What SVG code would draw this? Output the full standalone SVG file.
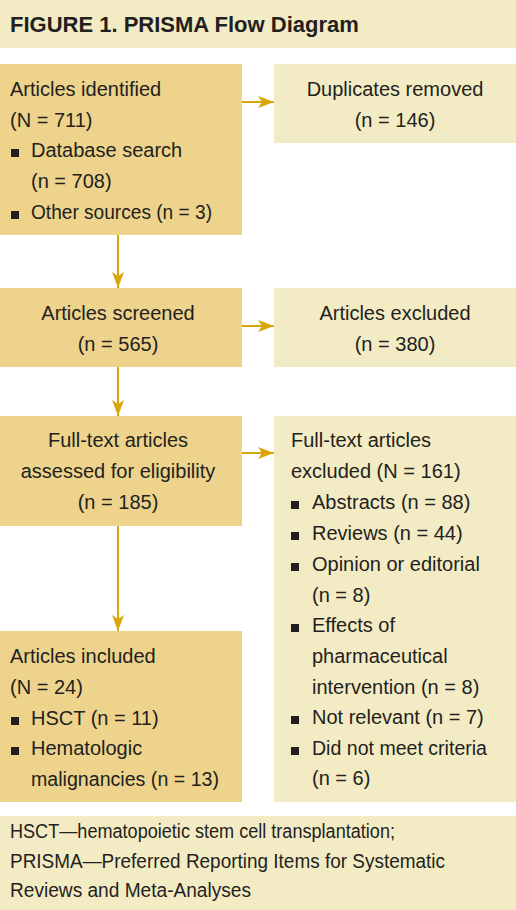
<svg xmlns="http://www.w3.org/2000/svg" width="516" height="910" viewBox="0 0 516 910">
<defs>
<style>
.dark{fill:#EDD38B}
.light{fill:#F3EBC4}
text{font-family:"Liberation Sans",Arial,sans-serif;font-size:20px;fill:#231F20}
.c{text-anchor:middle}
.title{font-weight:bold;font-size:22px}
.bul{fill:#231F20}
.conn{stroke:#D9A60A;stroke-width:2;fill:none}
</style>
<marker id="ah" viewBox="0 0 16 12" refX="16" refY="6" markerWidth="16" markerHeight="12" markerUnits="userSpaceOnUse" orient="auto">
<path d="M0,0 L16,6 L0,12 L4,6 Z" fill="#D9A60A"/>
</marker>
</defs>
<rect width="516" height="910" fill="#FFFFFF"/>
<g id="header">
<rect x="0" y="0" width="516" height="48" class="light"/>
<text x="10" y="32" class="title">FIGURE 1. PRISMA Flow Diagram</text>
</g>
<g id="connectors">
<line x1="242" y1="102" x2="274" y2="102" class="conn" marker-end="url(#ah)"/>
<line x1="118" y1="235" x2="118" y2="288" class="conn" marker-end="url(#ah)"/>
<line x1="242" y1="326" x2="274" y2="326" class="conn" marker-end="url(#ah)"/>
<line x1="118" y1="367" x2="118" y2="416" class="conn" marker-end="url(#ah)"/>
<line x1="242" y1="453" x2="274" y2="453" class="conn" marker-end="url(#ah)"/>
<line x1="118" y1="526" x2="118" y2="631" class="conn" marker-end="url(#ah)"/>
</g>
<g id="identified">
<rect x="0" y="64" width="242" height="171" class="dark"/>
<text x="10" y="96">Articles identified</text>
<text x="10" y="126.5">(N = 711)</text>
<rect x="11" y="149" width="8" height="8" class="bul"/>
<text x="31" y="157">Database search</text>
<text x="31" y="188">(n = 708)</text>
<rect x="11" y="211" width="8" height="8" class="bul"/>
<text x="31" y="219" textLength="181" lengthAdjust="spacingAndGlyphs">Other sources (n = 3)</text>
</g>
<g id="duplicates">
<rect x="274" y="64" width="242" height="79" class="light"/>
<text x="395" y="96" class="c">Duplicates removed</text>
<text x="395" y="127" class="c">(n = 146)</text>
</g>
<g id="screened">
<rect x="0" y="288" width="242" height="79" class="dark"/>
<text x="118" y="320" class="c">Articles screened</text>
<text x="118" y="351" class="c">(n = 565)</text>
</g>
<g id="excluded">
<rect x="274" y="288" width="242" height="79" class="light"/>
<text x="395" y="320" class="c">Articles excluded</text>
<text x="395" y="351" class="c">(n = 380)</text>
</g>
<g id="fulltext">
<rect x="0" y="416" width="242" height="110" class="dark"/>
<text x="118" y="447" class="c">Full-text articles</text>
<text x="118" y="478" class="c">assessed for eligibility</text>
<text x="118" y="509" class="c">(n = 185)</text>
</g>
<g id="ftexcluded">
<rect x="274" y="416" width="242" height="386" class="light"/>
<text x="291" y="447">Full-text articles</text>
<text x="291" y="478">excluded (N = 161)</text>
<rect x="291" y="501" width="8" height="8" class="bul"/>
<text x="312" y="509">Abstracts (n = 88)</text>
<rect x="291" y="532" width="8" height="8" class="bul"/>
<text x="312" y="540">Reviews (n = 44)</text>
<rect x="291" y="563" width="8" height="8" class="bul"/>
<text x="312" y="571">Opinion or editorial</text>
<text x="312" y="601.5">(n = 8)</text>
<rect x="291" y="624" width="8" height="8" class="bul"/>
<text x="312" y="632">Effects of</text>
<text x="312" y="663">pharmaceutical</text>
<text x="312" y="693.5">intervention (n = 8)</text>
<rect x="291" y="716" width="8" height="8" class="bul"/>
<text x="312" y="724">Not relevant (n = 7)</text>
<rect x="291" y="747" width="8" height="8" class="bul"/>
<text x="312" y="755" textLength="175" lengthAdjust="spacingAndGlyphs">Did not meet criteria</text>
<text x="312" y="785">(n = 6)</text>
</g>
<g id="included">
<rect x="0" y="631" width="242" height="171" class="dark"/>
<text x="10" y="663">Articles included</text>
<text x="10" y="694">(N = 24)</text>
<rect x="11" y="717" width="8" height="8" class="bul"/>
<text x="31" y="725">HSCT (n = 11)</text>
<rect x="11" y="747" width="8" height="8" class="bul"/>
<text x="31" y="755">Hematologic</text>
<text x="31" y="786" textLength="188" lengthAdjust="spacingAndGlyphs">malignancies (n = 13)</text>
</g>
<g id="footer">
<rect x="0" y="816" width="516" height="94" class="light"/>
<text x="10" y="838" textLength="385" lengthAdjust="spacingAndGlyphs">HSCT—hematopoietic stem cell transplantation;</text>
<text x="10" y="867.5" textLength="435" lengthAdjust="spacingAndGlyphs">PRISMA—Preferred Reporting Items for Systematic</text>
<text x="10" y="897" textLength="241" lengthAdjust="spacingAndGlyphs">Reviews and Meta-Analyses</text>
</g>
</svg>
